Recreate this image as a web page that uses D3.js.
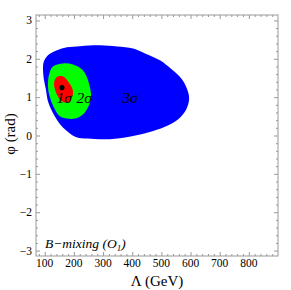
<!DOCTYPE html>
<html>
<head>
<meta charset="utf-8">
<script src="https://cdn.jsdelivr.net/npm/d3@7"></script>
<style>
  body { margin: 0; background: #fff; }
  svg text { font-family: "Liberation Serif", "DejaVu Serif", serif; }
</style>
</head>
<body>
<div id="chart"></div>
<script>
// contour outlines: [Lambda (GeV), phi (rad)]
var blue3sigma = [
  [94, 1.77], [97, 1.93], [111, 2.09], [142, 2.22], [176, 2.30], [221, 2.33],
  [290, 2.35], [348, 2.32], [403, 2.27], [444, 2.14], [495, 1.96], [536, 1.72],
  [571, 1.46], [591, 1.15], [595, 0.94], [585, 0.68], [557, 0.42], [512, 0.23],
  [454, 0.08], [375, -0.05], [307, -0.10], [248, -0.08], [204, -0.03], [169, 0.16],
  [145, 0.37], [125, 0.63], [111, 0.89], [104, 1.20], [97, 1.46]
];
var green2sigma = [
  [115, 1.59], [128, 1.80], [163, 1.88], [197, 1.85], [228, 1.72], [245, 1.51],
  [255, 1.25], [259, 0.99], [248, 0.73], [231, 0.55], [204, 0.44], [176, 0.44],
  [152, 0.50], [135, 0.68], [118, 0.99], [111, 1.28]
];
var red1sigma = [
  [135, 1.46], [145, 1.54], [163, 1.54], [180, 1.41], [193, 1.25], [197, 1.12],
  [190, 0.94], [176, 0.86], [159, 0.89], [145, 1.02], [135, 1.20], [132, 1.33]
];
var bestFit = [159, 1.25];

var xTicks = [100, 200, 300, 400, 500, 600, 700, 800];
var yTicks = [-3, -2, -1, 0, 1, 2, 3];
var sigmaLabels = [
  { text: "1σ", at: [140, 0.86] },
  { text: "2σ", at: [209, 0.86] },
  { text: "3σ", at: [366, 0.86] }
];

var width = 291, height = 290;
var mLeft = 36, mRight = 278, mTop = 15, mBottom = 256;

var svg = d3.select("#chart").append("svg")
  .attr("width", width)
  .attr("height", height);

var x = d3.scaleLinear().domain([70, 900]).range([mLeft, mRight]);
var y = d3.scaleLinear().domain([-Math.PI, Math.PI]).range([mBottom, mTop]);

var area = d3.line()
  .x(function(d) { return x(d[0]); })
  .y(function(d) { return y(d[1]); })
  .curve(d3.curveCatmullRomClosed);

svg.append("path").attr("d", area(blue3sigma)).attr("fill", "#0000ff");
svg.append("path").attr("d", area(green2sigma)).attr("fill", "#00ff00");
svg.append("path").attr("d", area(red1sigma)).attr("fill", "#ff0000");

svg.append("circle")
  .attr("cx", x(bestFit[0]))
  .attr("cy", y(bestFit[1]))
  .attr("r", 2.6)
  .attr("fill", "#000");

svg.selectAll(".sig")
  .data(sigmaLabels)
  .enter().append("text")
  .attr("x", function(d) { return x(d.at[0]); })
  .attr("y", function(d) { return y(d.at[1]); })
  .attr("font-size", 15.5)
  .attr("font-style", "italic")
  .text(function(d) { return d.text; });

// frame with inward ticks on every side, mathematica style
var grey = "#999";
var xMinor = d3.range(80, 900, 20).filter(function(v) { return v % 100 !== 0; });
var yMinor = d3.range(-3.0, 3.01, 0.2).map(function(v) { return Math.round(v * 10) / 10; })
  .filter(function(v) { return Math.abs(v - Math.round(v)) > 0.01; });

function tickGroup(axis, tr) {
  var g = svg.append("g").attr("transform", tr).call(axis);
  g.select(".domain").remove();
  g.selectAll("text").remove();
  g.selectAll("line").attr("stroke", grey);
}
[[mBottom, -1], [mTop, 1]].forEach(function(s) {
  var tr = "translate(0," + s[0] + ")";
  tickGroup(d3.axisBottom(x).tickValues(xMinor).tickSize(2 * s[1]), tr);
  tickGroup(d3.axisBottom(x).tickValues(xTicks).tickSize(4 * s[1]), tr);
});
[[mLeft, -1], [mRight, 1]].forEach(function(s) {
  var tr = "translate(" + s[0] + ",0)";
  tickGroup(d3.axisLeft(y).tickValues(yMinor).tickSize(2 * s[1]), tr);
  tickGroup(d3.axisLeft(y).tickValues(yTicks).tickSize(4 * s[1]), tr);
});

svg.append("rect")
  .attr("x", mLeft).attr("y", mTop)
  .attr("width", mRight - mLeft).attr("height", mBottom - mTop)
  .attr("fill", "none").attr("stroke", grey).attr("stroke-width", 1);

// tick labels
svg.selectAll(".xl")
  .data(xTicks)
  .enter().append("text")
  .attr("x", function(d) { return x(d); })
  .attr("y", mBottom + 11)
  .attr("text-anchor", "middle")
  .attr("font-size", 11.5)
  .text(function(d) { return d; });

svg.selectAll(".yl")
  .data(yTicks)
  .enter().append("text")
  .attr("x", mLeft - 4)
  .attr("y", function(d) { return y(d) + 4; })
  .attr("text-anchor", "end")
  .attr("font-size", 11.5)
  .text(function(d) { return d < 0 ? "\u2212" + Math.abs(d) : d; });

svg.append("text")
  .attr("x", 157)
  .attr("y", 286)
  .attr("text-anchor", "middle")
  .attr("font-size", 15)
  .text("\u039B (GeV)");

svg.append("text")
  .attr("transform", "translate(15,134) rotate(-90)")
  .attr("text-anchor", "middle")
  .attr("font-size", 15)
  .text("\u03C6 (rad)");

var note = svg.append("text")
  .attr("x", 45)
  .attr("y", 248)
  .attr("font-size", 13.5)
  .attr("font-style", "italic");
note.append("tspan").text("B\u2212mixing (O");
note.append("tspan").attr("font-size", 9).attr("dy", 3).text("1");
note.append("tspan").attr("dy", -3).text(")");
</script>
</body>
</html>
